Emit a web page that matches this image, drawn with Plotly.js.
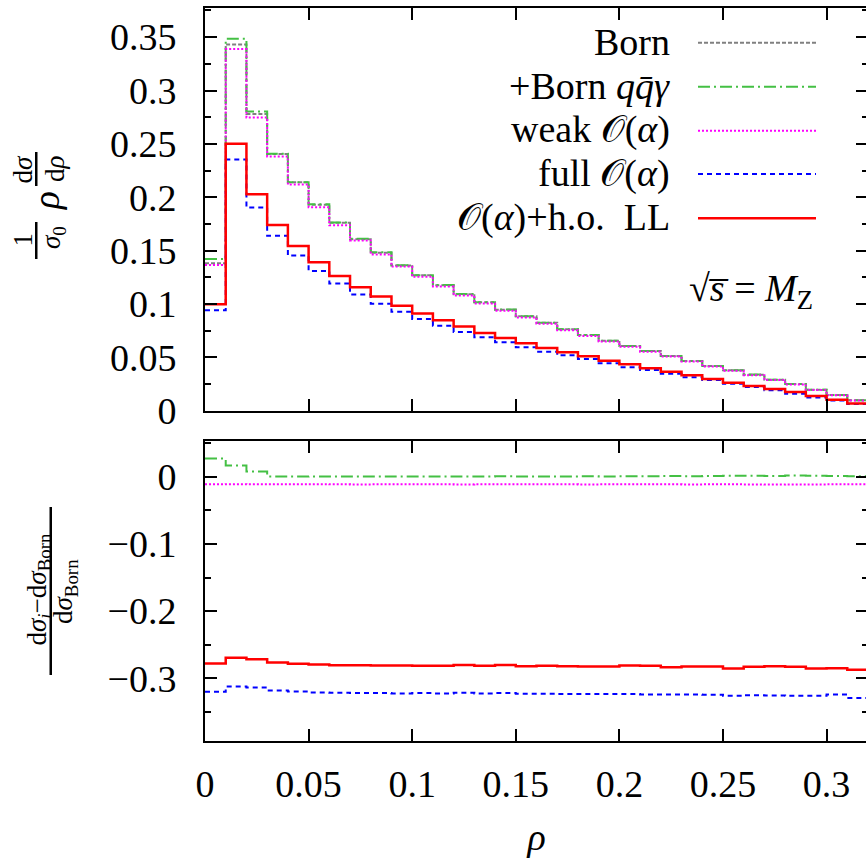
<!DOCTYPE html>
<html><head><meta charset="utf-8">
<script src="https://cdn.plot.ly/plotly-3.0.1.min.js"></script>
<style>html,body{margin:0;padding:0;overflow:hidden;background:#fff}#chart{width:869px;height:865px}</style>
</head><body><div id="chart"></div><script>
// bin lower edges of rho (bin width 0.01)
const rhoBins = [0.00,0.01,0.02,0.03,0.04,0.05,0.06,0.07,0.08,0.09,0.10,0.11,0.12,0.13,0.14,0.15,
                 0.16,0.17,0.18,0.19,0.20,0.21,0.22,0.23,0.24,0.25,0.26,0.27,0.28,0.29,0.30,0.31];
const rhoEnd = 0.32;

// upper panel: (1/sigma0) rho dsigma/drho
const born      = [0.1381,0.3432,0.2779,0.2405,0.2140,0.1930,0.1760,0.1607,0.1481,0.1361,0.1268,0.1176,0.1092,0.1015,0.0946,0.0884,
                   0.0824,0.0762,0.0709,0.0655,0.0606,0.0559,0.0512,0.0465,0.0418,0.0378,0.0337,0.0290,0.0249,0.0196,0.0146,0.0097];
const bornQQG   = [0.1422,0.3485,0.2803,0.2407,0.2141,0.1935,0.1763,0.1610,0.1485,0.1363,0.1270,0.1178,0.1094,0.1016,0.0947,0.0885,
                   0.0825,0.0763,0.0710,0.0656,0.0607,0.0560,0.0513,0.0466,0.0419,0.0379,0.0338,0.0291,0.0250,0.0197,0.0147,0.0097];
const weakOa    = [0.1366,0.3388,0.2747,0.2381,0.2119,0.1907,0.1738,0.1594,0.1463,0.1350,0.1254,0.1164,0.1080,0.1004,0.0936,0.0874,
                   0.0815,0.0754,0.0701,0.0648,0.0599,0.0553,0.0507,0.0460,0.0414,0.0374,0.0333,0.0287,0.0246,0.0194,0.0144,0.0096];
const fullOa    = [0.0941,0.2353,0.1903,0.1638,0.1453,0.1310,0.1191,0.1088,0.1003,0.0928,0.0860,0.0797,0.0738,0.0688,0.0641,0.0594,
                   0.0553,0.0519,0.0485,0.0444,0.0407,0.0382,0.0347,0.0313,0.0288,0.0253,0.0222,0.0191,0.0159,0.0124,0.0096,0.0062];
const oaHoLL    = [0.0997,0.2500,0.2029,0.1741,0.1544,0.1391,0.1263,0.1157,0.1069,0.0984,0.0910,0.0847,0.0788,0.0728,0.0682,0.0632,
                   0.0588,0.0547,0.0510,0.0469,0.0435,0.0397,0.0366,0.0332,0.0297,0.0263,0.0232,0.0203,0.0176,0.0138,0.0103,0.0068];

// lower panel: (dsigma_i - dsigma_Born)/dsigma_Born
const relQQG    = [0.0268,0.0164,0.0075,0.0004,0.0002,0.0003,0.0002,0.0003,0.0004,0.0002,0.0003,0.0004,0.0002,0.0003,0.0005,0.0003,
                   0.0004,0.0003,0.0005,0.0004,0.0006,0.0005,0.0008,0.0006,0.0009,0.0012,0.0015,0.0010,0.0018,0.0012,0.0008,0.0005];
const relWeak   = [-0.0114,-0.0113,-0.0114,-0.0114,-0.0114,-0.0113,-0.0114,-0.0115,-0.0114,-0.0114,-0.0114,-0.0114,-0.0115,-0.0114,-0.0114,-0.0114,
                   -0.0114,-0.0114,-0.0115,-0.0114,-0.0113,-0.0114,-0.0114,-0.0115,-0.0114,-0.0114,-0.0116,-0.0117,-0.0115,-0.0116,-0.0114,-0.0112];
const relFull   = [-0.3198,-0.3119,-0.3134,-0.3178,-0.3193,-0.3208,-0.3213,-0.3218,-0.3218,-0.3223,-0.3218,-0.3223,-0.3213,-0.3223,-0.3218,-0.3228,
                   -0.3228,-0.3233,-0.3233,-0.3233,-0.3233,-0.3238,-0.3238,-0.3238,-0.3243,-0.3258,-0.3248,-0.3253,-0.3258,-0.3258,-0.3238,-0.3292];
const relHoLL   = [-0.2779,-0.2694,-0.2714,-0.2764,-0.2783,-0.2793,-0.2803,-0.2803,-0.2808,-0.2808,-0.2813,-0.2813,-0.2800,-0.2813,-0.2800,-0.2818,
                   -0.2813,-0.2818,-0.2823,-0.2823,-0.2808,-0.2813,-0.2833,-0.2823,-0.2823,-0.2853,-0.2828,-0.2818,-0.2828,-0.2853,-0.2848,-0.2872];

const seriesNames = ['Born', '+Born <i>q</i><i>q̄</i><i>γ</i>', 'weak 𝒪(<i>α</i>)', 'full 𝒪(<i>α</i>)', '𝒪(<i>α</i>)+h.o.  LL'];

const FONT = '"Liberation Serif", "DejaVu Serif", serif';
const styles = [
  {color:'#808080', width:2,   dash:'4px,2px'},
  {color:'#44c044', width:2,   dash:'12px,4px,2px,4px'},
  {color:'#ff00ff', width:2,   dash:'2px,2px'},
  {color:'#0000ff', width:2,   dash:'5px,4px'},
  {color:'#ff0000', width:2.5, dash:'solid'}
];

const xs = rhoBins.concat([rhoEnd]);
function stepY(v){ return v.concat([v[v.length-1]]); }
function tr(v, st, xa, ya){
  return {x: xs, y: stepY(v), xaxis: xa, yaxis: ya, type:'scatter', mode:'lines',
          line:{shape:'hv', color: st.color, width: st.width, dash: st.dash}, showlegend:false, hoverinfo:'skip'};
}
const data = [
  tr(born, styles[0], 'x', 'y'),
  tr(bornQQG, styles[1], 'x', 'y'),
  tr(weakOa, styles[2], 'x', 'y'),
  tr(fullOa, styles[3], 'x', 'y'),
  tr(oaHoLL, styles[4], 'x', 'y'),
  tr(relQQG, styles[1], 'x2', 'y2'),
  tr(relWeak, styles[2], 'x2', 'y2'),
  tr(relFull, styles[3], 'x2', 'y2'),
  tr(relHoLL, styles[4], 'x2', 'y2')
];

// pixel helpers for layout placement
const ML = 205, MT = 8, PW = 663, PH = 733;
const px = p => (p - ML) / PW;
const py = p => (MT + PH - p) / PH;

const TF = {family:FONT, size:38, color:'#000'};
const axBase = {showline:true, linewidth:2, linecolor:'#000', mirror:'ticks', ticks:'inside',
  ticklen:12, tickwidth:2, tickcolor:'#000', showgrid:false, zeroline:false, tickfont:TF};

const annotations = [];
const shapes = [];
// legend (text right, line sample right of text)
const legY = [42.7, 86.7, 130.7, 174, 218.3];
for (let i = 0; i < 5; i++) {
  annotations.push({xref:'paper', yref:'paper', x:px(672), y:py(legY[i]-1), xanchor:'right', yanchor:'middle',
    text: seriesNames[i], showarrow:false, font:TF});
  shapes.push({type:'line', xref:'paper', yref:'paper', x0:px(698), x1:px(816), y0:py(legY[i]), y1:py(legY[i]),
    line:{color:styles[i].color, width:styles[i].width, dash:styles[i].dash}});
}
annotations.push({xref:'paper', yref:'paper', x:px(815), y:py(291), xanchor:'right', yanchor:'middle',
  text:'√<i>s̅</i> = <i>M</i><sub>Z</sub>', showarrow:false, font:TF});

// upper y label: 1/sigma0 rho dsigma/drho (rotated)
const lab = (x, y, t, s) => annotations.push({xref:'paper', yref:'paper', x:px(x), y:py(y), xanchor:'center', yanchor:'middle',
  text:t, textangle:-90, showarrow:false, font:{family:FONT, size:s, color:'#000'}});
lab(22.5, 240, '1', 27);
lab(53, 238, '<i>σ</i><sub>0</sub>', 27);
lab(47, 201, '<i>ρ</i>', 37);
lab(22.5, 169, 'd<i>σ</i>', 27);
lab(55, 169, 'd<i>ρ</i>', 27);
// lower y label
lab(38.5, 590, 'd<i>σ</i><sub><i>i</i></sub>−d<i>σ</i><sub>Born</sub>', 27);
lab(65, 592, 'd<i>σ</i><sub>Born</sub>', 27);
// fraction bars
shapes.push({type:'rect', xref:'paper', yref:'paper', x0:px(35), x1:px(37.5), y0:py(222), y1:py(259), fillcolor:'#000', line:{width:0}, layer:'above'});
shapes.push({type:'rect', xref:'paper', yref:'paper', x0:px(35), x1:px(37.5), y0:py(152), y1:py(186), fillcolor:'#000', line:{width:0}, layer:'above'});
shapes.push({type:'rect', xref:'paper', yref:'paper', x0:px(49.5), x1:px(52), y0:py(507), y1:py(675), fillcolor:'#000', line:{width:0}, layer:'above'});

const layout = {
  width: 869, height: 865,
  margin:{l:ML, r:1, t:MT, b:124},
  paper_bgcolor:'#fff', plot_bgcolor:'#fff',
  showlegend:false,
  xaxis: Object.assign({}, axBase, {domain:[0,1], range:[0, rhoEnd], tick0:0, dtick:0.05, anchor:'y', showticklabels:false}),
  yaxis: Object.assign({}, axBase, {domain:[py(410.7), 1], range:[0, 0.3773], tick0:0, dtick:0.05, anchor:'x',
     ticklabelstandoff: 19,
     minor:{dtick:0.025, tick0:0, ticks:'inside', ticklen:6, tickwidth:2, tickcolor:'#000', showgrid:false}}),
  xaxis2: Object.assign({}, axBase, {domain:[0,1], range:[0, rhoEnd], tick0:0, dtick:0.05, anchor:'y2', matches:'x',
     ticklabelstandoff: 8,
     title:{text:'<i>ρ</i>', font:TF, standoff: 20}}),
  yaxis2: Object.assign({}, axBase, {domain:[0, py(441)], range:[-0.393, 0.053], tick0:0, dtick:0.1, anchor:'x2',
     ticklabelstandoff: 19,
     minor:{dtick:0.05, tick0:0, ticks:'inside', ticklen:6, tickwidth:2, tickcolor:'#000', showgrid:false}}),
  annotations: annotations,
  shapes: shapes
};
Plotly.newPlot('chart', data, layout, {staticPlot:true, displayModeBar:false});
</script></body></html>
